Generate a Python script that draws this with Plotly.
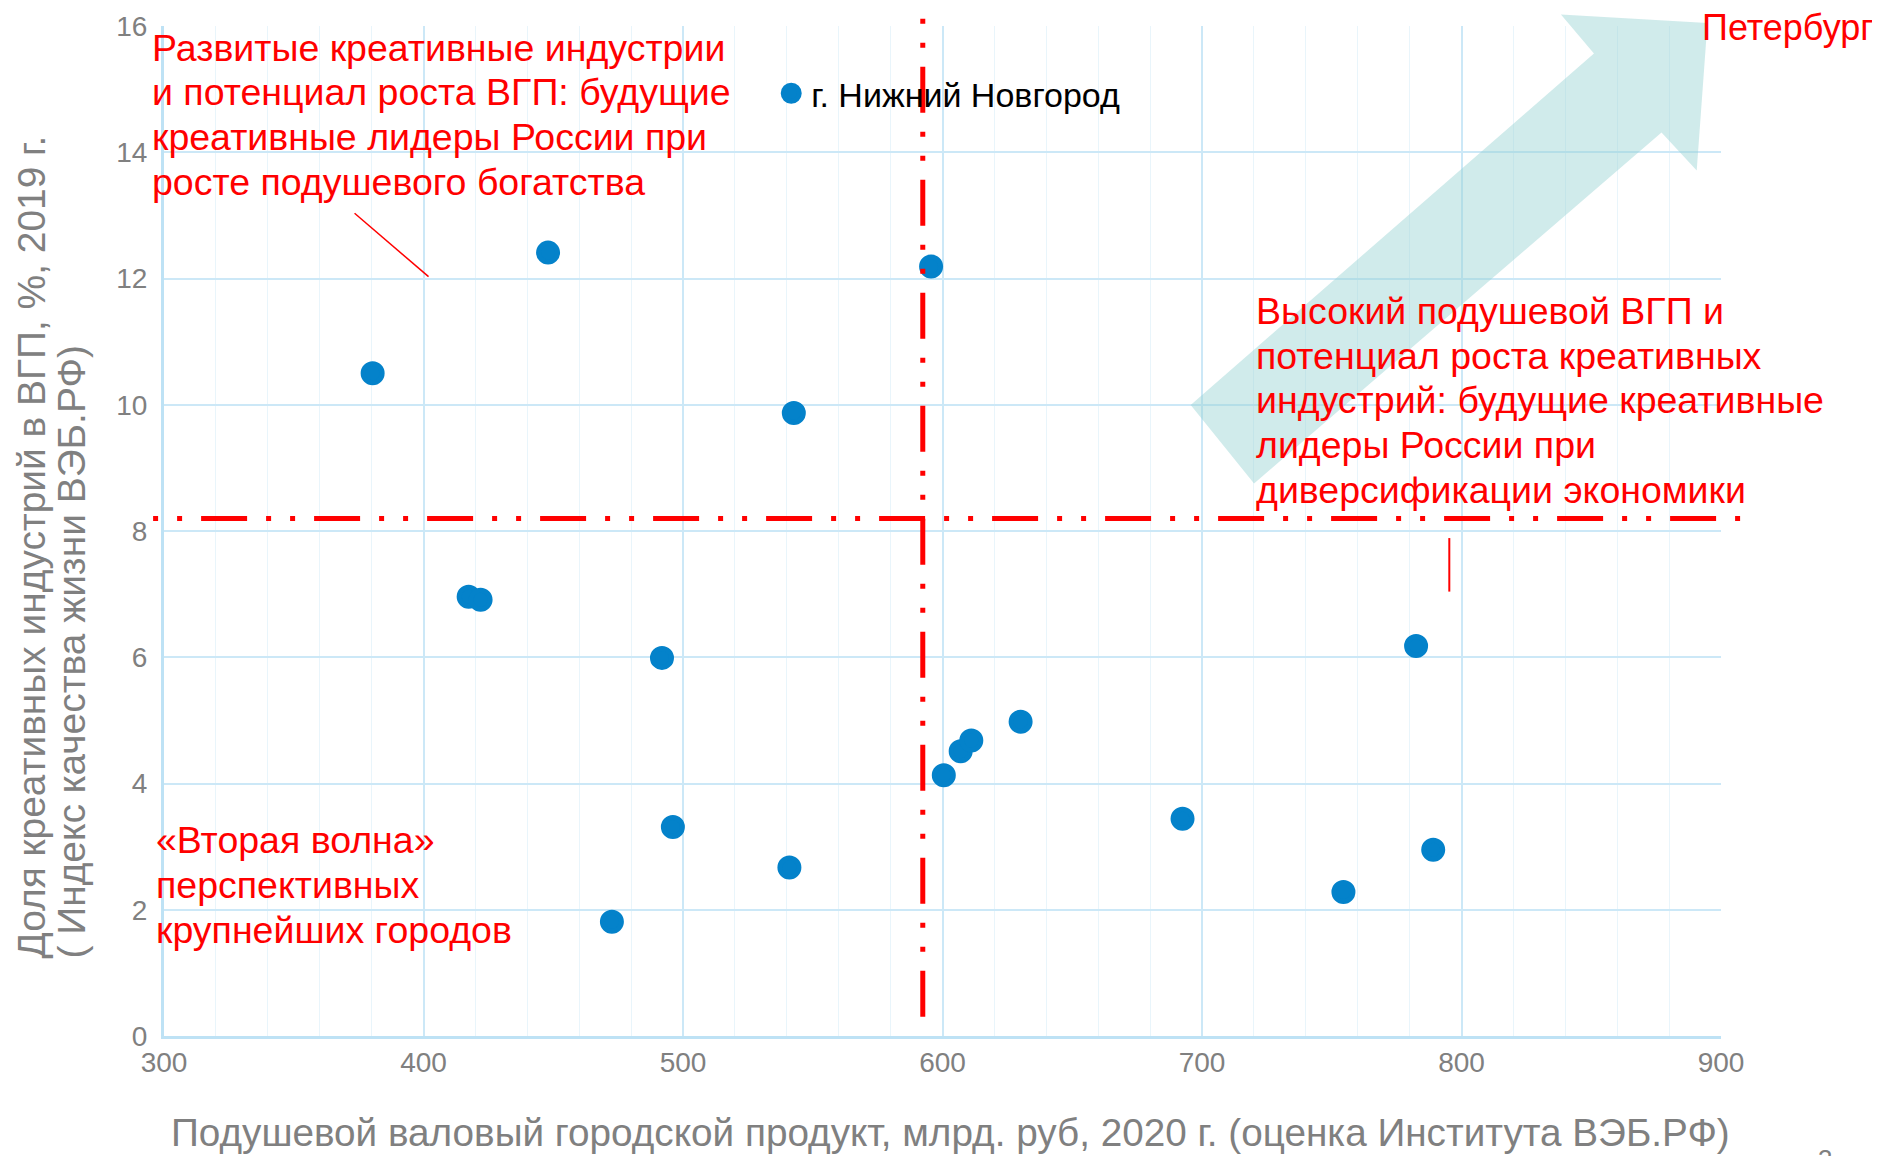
import plotly.graph_objects as go

# ---- data ----
gvp_per_capita = [380.4, 448.0, 595.6, 542.7, 417.4, 422.0, 491.9, 496.1, 541.0,
                  472.6, 600.5, 607.0, 611.1, 630.1, 692.5, 754.5, 782.5, 789.1]
creative_share = [10.50, 12.41, 12.19, 9.87, 6.96, 6.91, 5.99, 3.31, 2.67,
                  1.81, 4.13, 4.51, 4.68, 4.98, 3.44, 2.28, 6.18, 2.95]
series_name = "г. Нижний Новгород"

gvp_threshold = 592.4      # vertical dash-dot divider
share_threshold = 8.2      # horizontal dash-dot divider

x_range = [300, 900]
y_range = [0, 16]
x_ticks = [300, 400, 500, 600, 700, 800, 900]
y_ticks = [0, 2, 4, 6, 8, 10, 12, 14, 16]

x_title = "Подушевой валовый городской продукт, млрд. руб, 2020 г. (оценка Института ВЭБ.РФ)"
y_title_lines = ["Доля креативных индустрий в ВГП, %, 2019 г.", "( Индекс качества жизни ВЭБ.РФ)"]

note_top_left = ["Развитые креативные индустрии", "и потенциал роста ВГП: будущие",
                 "креативные лидеры России при", "росте подушевого богатства"]
note_right = ["Высокий подушевой ВГП и", "потенциал роста креативных",
              "индустрий: будущие креативные", "лидеры России при",
              "диверсификации экономики"]
note_bottom_left = ["«Вторая волна»", "перспективных", "крупнейших городов"]
note_spb = "Петербург"
page_number = "3"

FONT = "Liberation Sans, Arial, sans-serif"
RED = "#ff0000"
GRAY = "#808080"
BLUE = "#0482ca"

fig = go.Figure()
fig.add_trace(go.Scatter(
    x=gvp_per_capita, y=creative_share, mode="markers", name=series_name,
    marker=dict(color=BLUE, size=19, line=dict(width=5, color=BLUE)),
    showlegend=True, cliponaxis=False,
))

shapes = [
    # arrow towards Petersburg
    dict(type="path", xref="paper", yref="paper", layer="above",
         path=("M 0.6594,0.6248 L 0.9184,0.9728 L 0.8972,1.0115 L 0.9913,1.0030 "
               "L 0.9844,0.8569 L 0.9618,0.8946 L 0.7001,0.5470 Z"),
         fillcolor="rgba(150,210,210,0.45)", line=dict(width=0)),
    # vertical divider
    dict(type="line", xref="x", yref="paper", layer="above",
         x0=gvp_threshold, x1=gvp_threshold, y0=0.019, y1=1.013,
         line=dict(color=RED, width=5, dash="46px,19px,5px,19px,5px,19px")),
    # horizontal divider
    dict(type="line", xref="paper", yref="y", layer="above",
         x0=-0.007, x1=1.016, y0=share_threshold, y1=share_threshold,
         line=dict(color=RED, width=5, dash="5px,19px,5px,19px,46px,19px")),
    # leader lines
    dict(type="line", xref="paper", yref="paper", layer="above",
         x0=0.1224, y0=0.8146, x1=0.1699, y1=0.7518,
         line=dict(color=RED, width=1.5)),
    dict(type="line", xref="paper", yref="paper", layer="above",
         x0=0.8255, y0=0.493, x1=0.8255, y1=0.440,
         line=dict(color=RED, width=2)),
]

ann_font = dict(family=FONT, size=37.5, color=RED)
LINE_STEP = 0.0443  # paper units between text lines


def text_block(lines, x, y_first):
    out = []
    for i, line in enumerate(lines):
        out.append(dict(text=line, xref="paper", yref="paper", x=x, y=y_first - i * LINE_STEP,
                        xanchor="left", yanchor="middle", align="left",
                        showarrow=False, font=ann_font))
    return out


annotations = []
annotations += text_block(note_top_left, -0.009, 0.9786)
annotations += text_block(note_right, 0.700, 0.718)
annotations += text_block(note_bottom_left, -0.0065, 0.1936)
annotations += [
    dict(text=note_spb, xref="paper", yref="paper", x=0.9865, y=0.9984,
         xanchor="left", yanchor="middle", align="left", showarrow=False,
         font=dict(family=FONT, size=36, color=RED)),
    dict(text=page_number, xref="paper", yref="paper", x=1.0668, y=-0.122,
         xanchor="center", yanchor="middle", showarrow=False,
         font=dict(family=FONT, size=26, color=GRAY)),
    # axis titles
    dict(text=x_title, xref="paper", yref="paper", x=0.5051, y=-0.096,
         xanchor="center", yanchor="middle", showarrow=False,
         font=dict(family=FONT, size=38.7, color=GRAY)),
]
for line, xpos in zip(y_title_lines, [-0.0848, -0.0591]):
    annotations.append(dict(text=line, xref="paper", yref="paper", x=xpos, y=0.0752,
                            xanchor="center", yanchor="bottom", textangle=-90,
                            showarrow=False, font=dict(family=FONT, size=38.9, color=GRAY)))

axis_common = dict(
    showgrid=True, gridcolor="rgb(204,232,247)", gridwidth=2,
    showline=True, linecolor="rgb(190,226,245)", linewidth=3,
    zeroline=False, ticks="", automargin=False,
    tickfont=dict(family=FONT, size=28, color=GRAY),
)

fig.update_layout(
    width=1880, height=1156, autosize=False,
    paper_bgcolor="white", plot_bgcolor="white",
    margin=dict(l=156, r=167, t=18, b=128, autoexpand=False),
    font=dict(family=FONT, color=GRAY),
    xaxis=dict(range=x_range, tickvals=x_ticks, ticklabelstandoff=-1,
               minor=dict(dtick=20, showgrid=True, gridcolor="rgb(233,245,251)", gridwidth=1),
               **axis_common),
    yaxis=dict(range=y_range, tickvals=y_ticks, ticklabelstandoff=8,
               **axis_common),
    legend=dict(x=0.39, y=0.933, xanchor="left", yanchor="middle",
                bgcolor="rgba(0,0,0,0)", font=dict(family=FONT, size=34, color="black"),
                itemsizing="trace"),
    shapes=shapes,
    annotations=annotations,
)

fig.write_html("out.html")
